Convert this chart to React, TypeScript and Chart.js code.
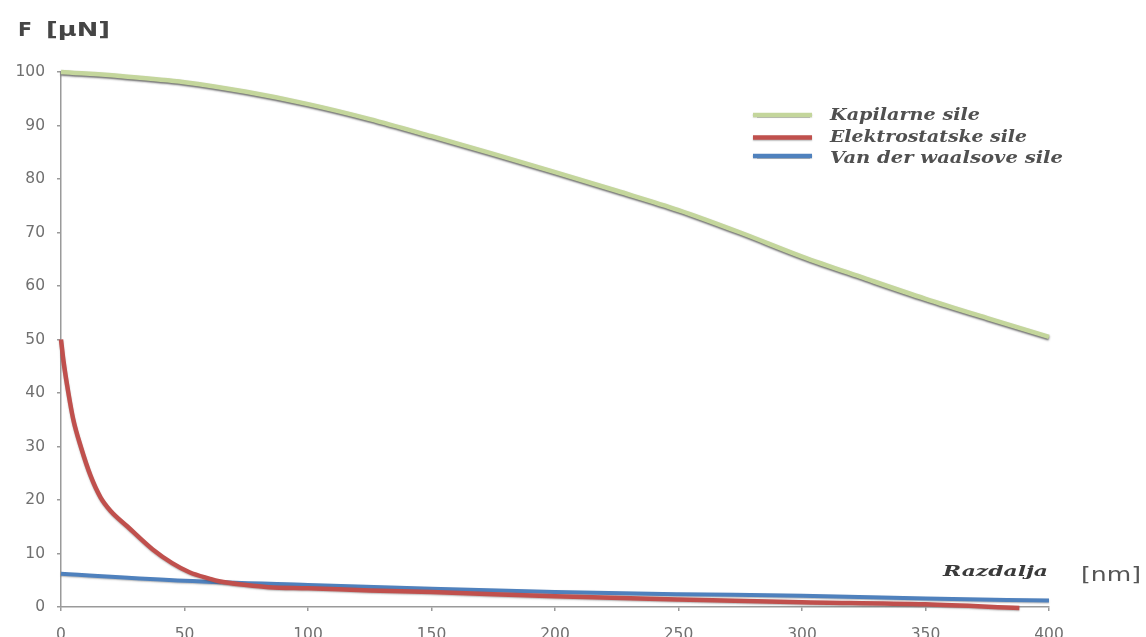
import React, { useEffect, useRef } from "react";
import { Chart, registerables } from "chart.js";

Chart.register(...registerables);

// Distance [nm] and force [µN] samples for each force type
const kapilarneX = [0, 25, 50, 75, 100, 125, 150, 175, 200, 225, 250, 275, 300, 325, 350, 375, 400];
const kapilarneY = [100, 99.2, 98.1, 96.3, 94, 91.2, 88, 84.7, 81.3, 77.8, 74.2, 70, 65.5, 61.5, 57.6, 54, 50.5];

const elektroX = [0, 1, 3, 5, 8, 12, 16, 20, 27, 37, 45, 52, 60, 64, 75, 84, 100, 125, 150, 200, 250, 300, 350, 388];
const elektroY = [50, 46, 40, 35, 30, 24.5, 20.5, 18, 15, 10.8, 8.2, 6.5, 5.3, 4.8, 4.1, 3.7, 3.5, 3.1, 2.8, 2.0, 1.4, 0.9, 0.5, -0.2];

const vdwX = [0, 50, 100, 150, 200, 250, 300, 350, 400];
const vdwY = [6.2, 4.9, 4.1, 3.4, 2.8, 2.4, 2.1, 1.6, 1.2];

const seriesLabels = ["Kapilarne sile", "Elektrostatske sile", "Van der waalsove sile"];
const seriesColors = ["#c4d69c", "#c0504d", "#4f81bd"];

const xTickValues = [0, 50, 100, 150, 200, 250, 300, 350, 400];
const yTickValues = [0, 10, 20, 30, 40, 50, 60, 70, 80, 90, 100];

const toPoints = (xs: number[], ys: number[]) => xs.map((x, i) => ({ x, y: ys[i] }));

// Draws text left-aligned and vertically centred, stretched horizontally to the given width
function fitText(
  ctx: CanvasRenderingContext2D,
  text: string,
  left: number,
  cy: number,
  width: number,
  font: string,
  color: string
) {
  ctx.save();
  ctx.font = font;
  ctx.fillStyle = color;
  ctx.textBaseline = "middle";
  ctx.textAlign = "left";
  const w = ctx.measureText(text).width;
  ctx.translate(left, cy);
  ctx.scale(width / w, 1);
  ctx.fillText(text, 0, 0);
  ctx.restore();
}

const lineShadow = {
  id: "lineShadow",
  beforeDatasetDraw(chart: any, args: any) {
    const ctx = chart.ctx;
    ctx.save();
    if (args.index === 0) {
      ctx.shadowColor = "rgba(60,60,60,0.75)";
      ctx.shadowBlur = 2;
      ctx.shadowOffsetY = 1.5;
    } else {
      ctx.shadowColor = "rgba(60,60,60,0.35)";
      ctx.shadowBlur = 1.5;
      ctx.shadowOffsetY = 1;
    }
  },
  afterDatasetDraw(chart: any) {
    chart.ctx.restore();
  },
};

const labelsPlugin = {
  id: "labelsPlugin",
  afterDraw(chart: any) {
    const ctx: CanvasRenderingContext2D = chart.ctx;
    // Axis titles
    fitText(ctx, "F", 18, 31, 14, "bold 19px 'DejaVu Sans'", "#454545");
    fitText(ctx, "[\u00b5N]", 46, 31, 64, "bold 19px 'DejaVu Sans'", "#454545");
    fitText(ctx, "Razdalja", 943, 572, 105, "italic bold 15px 'DejaVu Serif'", "#3a3a3a");
    fitText(ctx, "[nm]", 1081, 576, 60, "19px 'DejaVu Sans'", "#555555");

    // Legend
    const rows = [
      { lineY: 115, textY: 116, width: 150 },
      { lineY: 137.5, textY: 137.5, width: 197 },
      { lineY: 156, textY: 159, width: 233 },
    ];
    chart.data.datasets.forEach((ds: any, i: number) => {
      const r = rows[i];
      ctx.save();
      ctx.strokeStyle = ds.borderColor;
      ctx.lineWidth = 4.5;
      ctx.shadowColor = "rgba(60,60,60,0.4)";
      ctx.shadowBlur = 1.5;
      ctx.shadowOffsetY = 1;
      ctx.beginPath();
      ctx.moveTo(753, r.lineY);
      ctx.lineTo(812, r.lineY);
      ctx.stroke();
      ctx.restore();
      fitText(ctx, ds.label, 830, r.textY, r.width, "italic bold 16.5px 'DejaVu Serif'", "#505050");
    });
  },
};

export default function App() {
  const canvasRef = useRef<HTMLCanvasElement | null>(null);

  useEffect(() => {
    if (!canvasRef.current) return;
    const tickFont = { family: "'DejaVu Sans'", size: 15.5 };
    const chart = new Chart(canvasRef.current, {
      type: "line",
      data: {
        datasets: [
          {
            label: seriesLabels[0],
            data: toPoints(kapilarneX, kapilarneY),
            borderColor: seriesColors[0],
            borderWidth: 4.5,
            pointRadius: 0,
            cubicInterpolationMode: "monotone",
            clip: false,
          },
          {
            label: seriesLabels[1],
            data: toPoints(elektroX, elektroY),
            borderColor: seriesColors[1],
            borderWidth: 4.5,
            pointRadius: 0,
            cubicInterpolationMode: "monotone",
            clip: false,
          },
          {
            label: seriesLabels[2],
            data: toPoints(vdwX, vdwY),
            borderColor: seriesColors[2],
            borderWidth: 4,
            pointRadius: 0,
            cubicInterpolationMode: "monotone",
            clip: false,
          },
        ],
      },
      options: {
        responsive: false,
        animation: false,
        layout: { padding: { top: 72, right: 97, left: 0, bottom: 0 } },
        plugins: { legend: { display: false }, tooltip: { enabled: false } },
        scales: {
          x: {
            type: "linear",
            min: 0,
            max: 400,
            afterBuildTicks: (scale: any) => {
              scale.ticks = xTickValues.map((v) => ({ value: v }));
            },
            afterFit: (scale: any) => {
              scale.height = 30;
            },
            ticks: { font: tickFont, color: "#707070", padding: 15, maxRotation: 0 },
            grid: { drawOnChartArea: false, tickLength: 4, color: "#9a9a9a", lineWidth: 1.5 },
            border: { color: "#9a9a9a", width: 1.5 },
          },
          y: {
            min: 0,
            max: 100,
            afterBuildTicks: (scale: any) => {
              scale.ticks = yTickValues.map((v) => ({ value: v }));
            },
            afterFit: (scale: any) => {
              scale.width = 61;
            },
            ticks: { font: tickFont, color: "#707070", padding: 12 },
            grid: { drawOnChartArea: false, tickLength: 4, color: "#9a9a9a", lineWidth: 1.5 },
            border: { color: "#9a9a9a", width: 1.5 },
          },
        },
      },
      plugins: [lineShadow, labelsPlugin],
    } as any);
    return () => chart.destroy();
  }, []);

  return (
    <div style={{ position: "fixed", left: 0, top: 0, width: 1146, height: 637, background: "#fff" }}>
      <canvas ref={canvasRef} width={1146} height={637} style={{ display: "block" }} />
    </div>
  );
}
